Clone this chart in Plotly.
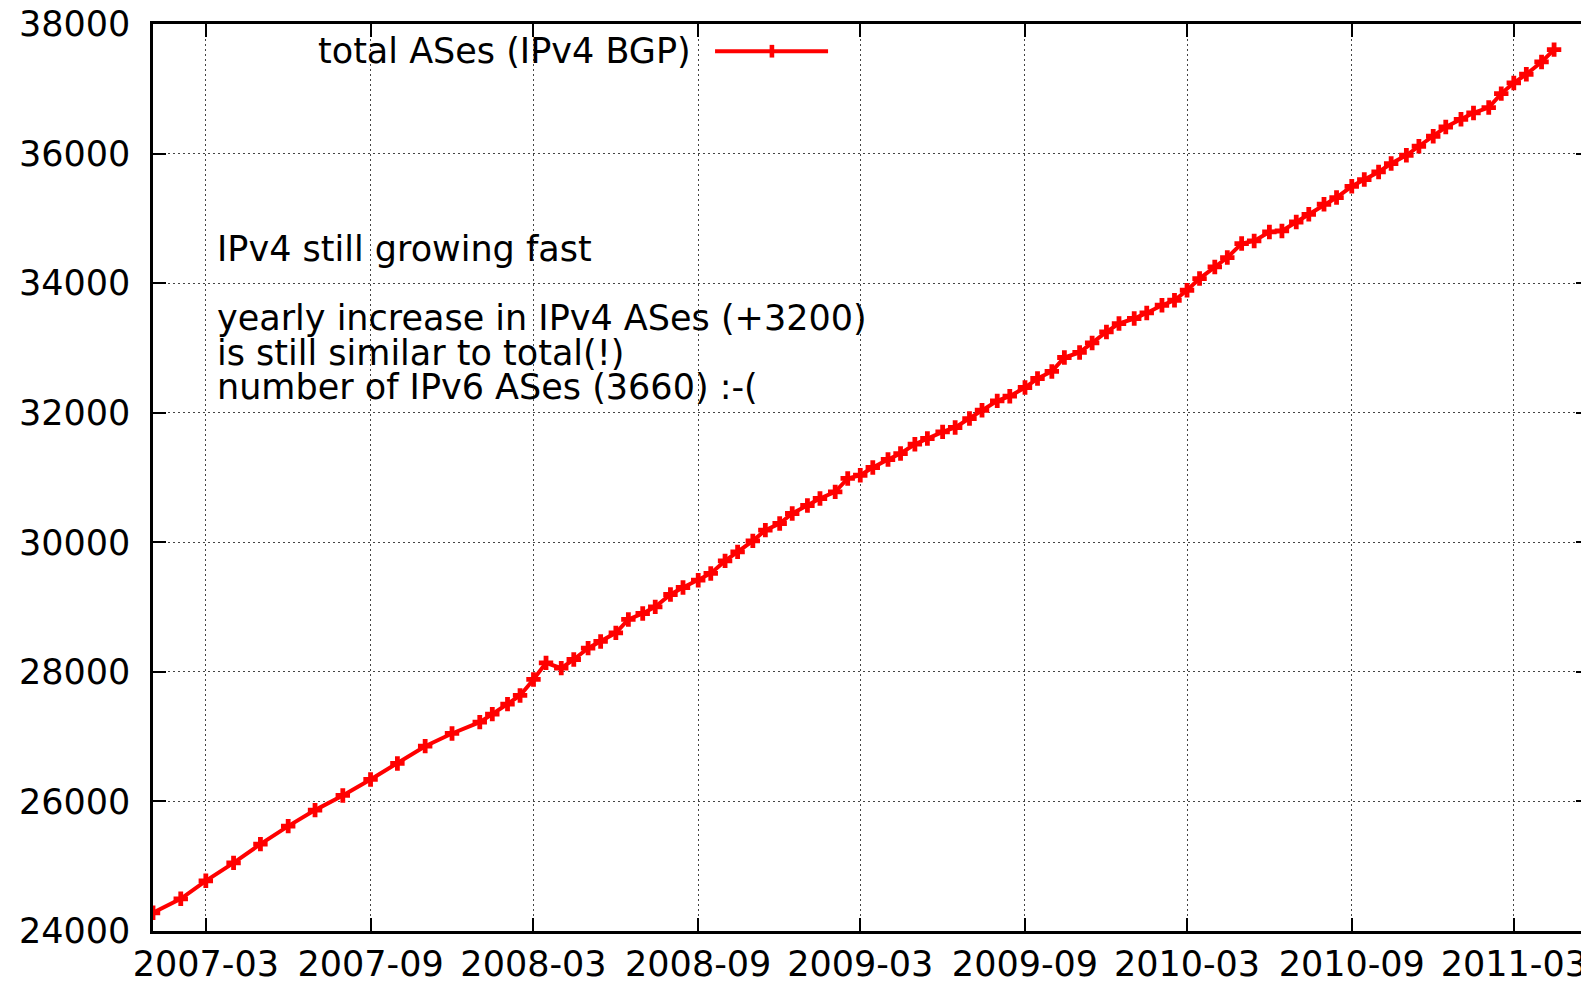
import plotly.graph_objects as go

# sample dates: monthly in 2007, then 1st and 15th of each month
dates_2007 = ["2007-%02d-01" % m for m in range(1, 13)]
dates_2008_2011 = [
    "2008-01-01", "2008-01-15", "2008-02-01", "2008-02-15", "2008-03-01", "2008-03-15",
    "2008-04-01", "2008-04-15", "2008-05-01", "2008-05-15", "2008-06-01", "2008-06-15",
    "2008-07-01", "2008-07-15", "2008-08-01", "2008-08-15", "2008-09-01", "2008-09-15",
    "2008-10-01", "2008-10-15", "2008-11-01", "2008-11-15", "2008-12-01", "2008-12-15",
    "2009-01-01", "2009-01-15", "2009-02-01", "2009-02-15", "2009-03-01", "2009-03-15",
    "2009-04-01", "2009-04-15", "2009-05-01", "2009-05-15", "2009-06-01", "2009-06-15",
    "2009-07-01", "2009-07-15", "2009-08-01", "2009-08-15", "2009-09-01", "2009-09-15",
    "2009-10-01", "2009-10-15", "2009-11-01", "2009-11-15", "2009-12-01", "2009-12-15",
    "2010-01-01", "2010-01-15", "2010-02-01", "2010-02-15", "2010-03-01", "2010-03-15",
    "2010-04-01", "2010-04-15", "2010-05-01", "2010-05-15", "2010-06-01", "2010-06-15",
    "2010-07-01", "2010-07-15", "2010-08-01", "2010-08-15", "2010-09-01", "2010-09-15",
    "2010-10-01", "2010-10-15", "2010-11-01", "2010-11-15", "2010-12-01", "2010-12-15",
    "2011-01-01", "2011-01-15", "2011-02-01", "2011-02-15", "2011-03-01", "2011-03-15",
    "2011-04-01", "2011-04-15",
]
dates = dates_2007 + dates_2008_2011

total_ases = [
    24281, 24497, 24775, 25052, 25341, 25619, 25866, 26092, 26339, 26586, 26853, 27049,
    27224, 27347, 27502, 27636, 27883, 28139, 28057, 28191, 28366, 28469, 28602, 28809,
    28901, 29003, 29194, 29302, 29415, 29519, 29713, 29852, 30022, 30187, 30290, 30444,
    30568, 30676, 30778, 30985, 31035, 31154, 31278, 31370, 31514, 31602, 31704, 31772,
    31910, 32038, 32182, 32255, 32389, 32528, 32637, 32852, 32930, 33077, 33247, 33376,
    33454, 33540, 33659, 33736, 33890, 34071, 34250, 34395, 34611, 34651, 34790, 34806,
    34944, 35063, 35218, 35321, 35495, 35599, 35716, 35846, 35974, 36113, 36267, 36410,
    36529, 36627, 36710, 36926, 37090, 37224, 37414, 37605,
]

note_lines = [
    "IPv4 still growing fast",
    "yearly increase in IPv4 ASes (+3200)",
    "is still similar to total(!)",
    "number of IPv6 ASes (3660) :-(",
]
note_y = [0.752, 0.676, 0.637, 0.600]

FONT = "DejaVu Sans, sans-serif"
FS = 35
RED = "#ff0000"

fig = go.Figure()
fig.add_trace(
    go.Scatter(
        x=dates, y=total_ases, mode="lines+markers", name="total ASes (IPv4 BGP)",
        line=dict(color=RED, width=4),
        marker=dict(symbol="cross", size=12, color=RED),
        showlegend=False,
    )
)

# gnuplot-style key: text on the left, sample line on the right
fig.add_annotation(
    x=0.376, y=0.970, xref="paper", yref="paper", text="total ASes (IPv4 BGP)",
    showarrow=False, xanchor="right", yanchor="middle",
    font=dict(family=FONT, size=FS, color="black"),
)
# white box hiding the grid behind the key
fig.add_shape(type="rect", xref="paper", yref="paper", x0=0.026, x1=0.482, y0=0.948, y1=1.0,
              fillcolor="white", line_width=0, layer="between")
fig.add_shape(type="line", xref="paper", yref="paper", x0=0.3914, x1=0.4701, y0=0.970, y1=0.970,
              line=dict(color=RED, width=4))
fig.add_shape(type="line", xref="paper", yref="paper", x0=0.431, x1=0.431, y0=0.963, y1=0.977,
              line=dict(color=RED, width=4.6))

for txt, yy in zip(note_lines, note_y):
    fig.add_annotation(
        x=0.0432, y=yy, xref="paper", yref="paper", text=txt, showarrow=False,
        xanchor="left", yanchor="middle", font=dict(family=FONT, size=FS, color="black"),
    )

fig.update_xaxes(
    type="date", range=["2007-01-01", "2011-05-24"],
    tick0="2007-03-01", dtick="M6", tickformat="%Y-%m",
    ticks="inside", ticklen=13, tickwidth=2, tickcolor="black", ticklabelstandoff=0,
    ticklabeloverflow="allow", automargin=False,
    showline=True, linecolor="black", linewidth=2.5, mirror="ticks",
    showgrid=True, gridcolor="#444", gridwidth=1, griddash="2px,3px",
    zeroline=False, tickfont=dict(family=FONT, size=FS, color="black"),
)
fig.update_yaxes(
    range=[24000, 38000], dtick=2000, tickformat="d",
    ticks="inside", ticklen=13, tickwidth=2, tickcolor="black", ticklabelstandoff=13,
    ticklabeloverflow="allow", automargin=False,
    showline=True, linecolor="black", linewidth=2.5, mirror="ticks",
    showgrid=True, gridcolor="#444", gridwidth=1, griddash="2px,3px",
    zeroline=False, tickfont=dict(family=FONT, size=FS, color="black"),
)
# the page body adds an 8px margin, so the figure is 8px smaller than the window
fig.update_layout(
    width=1581, height=975,
    margin=dict(l=145, r=0, t=16, b=52),
    plot_bgcolor="white", paper_bgcolor="white",
)

fig.write_html("out.html")
